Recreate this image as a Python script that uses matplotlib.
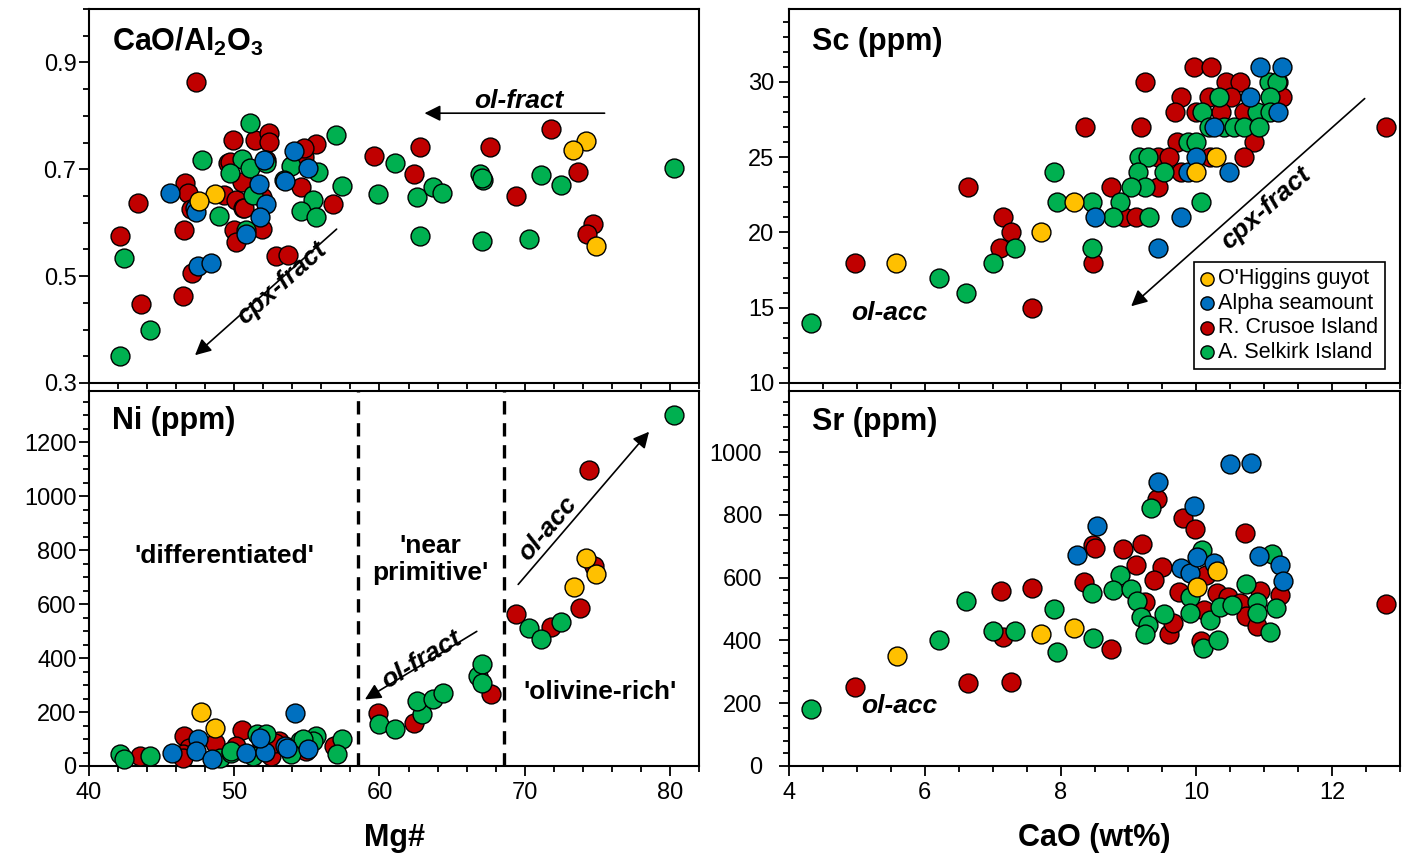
import numpy as np
import matplotlib
matplotlib.use("Agg")
import matplotlib.pyplot as plt
from matplotlib.ticker import MultipleLocator

plt.rcParams['font.family'] = ['Liberation Sans', 'DejaVu Sans']
plt.rcParams['mathtext.fontset'] = 'custom'
plt.rcParams['mathtext.bf'] = 'Liberation Sans:bold'

groups = ["O'Higgins guyot", "Alpha seamount", "R. Crusoe Island", "A. Selkirk Island"]
colors = ["#FFC000", "#0070C0", "#C00000", "#00B050"]

# CaO/Al2O3 vs Mg#  (Mg#, ratio)
cal_yellow = [(48.7, 0.654), (47.6, 0.640), (74.2, 0.753), (73.35, 0.737), (74.9, 0.556)]
cal_blue = [(45.6, 0.656), (52.05, 0.718), (54.1, 0.734), (55.1, 0.703), (47.3, 0.628), (47.4, 0.620),
            (51.7, 0.672), (52.2, 0.635), (51.75, 0.610), (50.8, 0.578), (53.5, 0.678), (47.5, 0.519),
            (48.4, 0.524)]
cal_red = [(47.4, 0.863), (49.9, 0.755), (51.4, 0.754), (52.4, 0.767), (52.4, 0.751), (55.6, 0.747),
           (49.6, 0.711), (54.8, 0.723), (59.65, 0.725), (46.6, 0.674), (46.8, 0.655), (47.05, 0.626),
           (49.3, 0.651), (50.15, 0.642), (50.6, 0.628), (51.9, 0.648), (51.9, 0.589), (50.0, 0.586),
           (50.15, 0.564), (54.6, 0.667), (56.8, 0.635), (52.85, 0.537), (53.7, 0.539), (42.1, 0.576),
           (43.4, 0.637), (43.55, 0.448), (46.5, 0.463), (47.1, 0.505), (46.55, 0.587), (62.8, 0.742),
           (62.4, 0.692), (67.6, 0.742), (69.4, 0.650), (71.8, 0.776), (73.7, 0.694), (74.7, 0.597),
           (74.3, 0.578), (50.5, 0.676), (50.7, 0.627), (49.7, 0.714), (54.8, 0.740), (52.2, 0.717)]
cal_green = [(51.07, 0.787), (57.0, 0.765), (47.8, 0.718), (50.5, 0.720), (51.06, 0.702), (49.7, 0.693),
             (52.2, 0.712), (53.9, 0.707), (55.8, 0.695), (57.4, 0.668), (61.1, 0.712), (59.9, 0.653),
             (48.96, 0.612), (51.3, 0.651), (50.8, 0.586), (55.4, 0.642), (54.6, 0.622), (55.6, 0.610),
             (42.4, 0.534), (44.2, 0.399), (42.1, 0.350), (62.6, 0.648), (63.7, 0.666), (64.3, 0.656),
             (62.8, 0.576), (66.9, 0.691), (67.1, 0.680), (67.06, 0.684), (67.05, 0.566), (70.3, 0.570),
             (71.1, 0.689), (72.5, 0.670), (80.3, 0.702), (53.4, 0.680)]

# Ni vs Mg#  (Mg#, ppm)
ni_yellow = [(47.7, 200), (48.7, 142), (73.4, 664), (74.2, 772), (74.9, 712)]
ni_blue = [(54.2, 198), (47.5, 99), (47.4, 56), (48.5, 25), (45.7, 50), (50.8, 50), (52.1, 52),
           (51.75, 105), (53.5, 74), (55.1, 64), (53.6, 68)]
ni_red = [(46.55, 111), (50.55, 133), (43.5, 37), (46.9, 68), (46.5, 43), (50.15, 74), (51.9, 80),
          (52.55, 37), (53.1, 93), (54.95, 56), (56.9, 74), (59.9, 198), (62.4, 161), (67.7, 266),
          (69.4, 562), (71.8, 516), (73.8, 584), (74.8, 743), (74.4, 1099), (48.65, 87), (52.8, 87),
          (46.5, 31)]
ni_green = [(42.1, 43), (42.4, 25), (44.2, 37), (51.6, 120), (52.2, 117), (49.0, 31), (49.8, 50),
            (51.3, 37), (54.0, 62), (55.6, 111), (55.4, 93), (57.4, 99), (57.1, 43), (54.5, 93),
            (59.95, 154), (61.1, 136), (62.9, 191), (62.6, 241), (63.7, 250), (64.4, 272), (66.8, 333),
            (67.05, 377), (67.05, 306), (70.3, 510), (71.1, 472), (72.5, 533), (80.3, 1300), (49.8, 56),
            (54.7, 99), (53.9, 43)]

# Sc vs CaO  (wt%, ppm)
sc_yellow = [(5.58, 18), (7.71, 20), (8.20, 22), (10.0, 24), (10.29, 25)]
sc_blue = [(8.51, 21), (9.43, 19), (9.77, 21), (9.87, 24), (9.99, 25), (10.48, 24), (10.26, 27),
           (10.79, 29), (11.21, 28), (10.94, 31), (11.26, 31)]
sc_red = [(4.97, 18), (6.63, 23), (7.15, 21), (7.27, 20), (7.11, 19), (7.58, 15), (8.36, 27), (8.48, 18),
          (9.19, 27), (9.24, 30), (9.97, 31), (10.21, 31), (9.77, 29), (9.68, 28), (10.43, 30), (10.65, 30),
          (11.2, 30), (10.19, 29), (10.51, 29), (11.26, 29), (9.99, 28), (10.36, 28), (10.70, 28),
          (10.85, 26), (10.70, 25), (9.72, 26), (10.2, 25), (9.77, 24), (9.43, 25), (9.60, 25), (9.43, 23),
          (8.75, 23), (8.94, 21), (9.11, 21), (12.80, 27)]
sc_green = [(4.33, 14), (6.21, 17), (6.60, 16), (7.0, 18), (7.33, 19), (7.90, 24), (7.95, 22), (8.47, 22),
            (8.46, 19), (11.07, 30), (11.19, 30), (10.34, 29), (11.09, 29), (10.09, 28), (10.90, 28),
            (11.09, 28), (10.19, 27), (10.41, 27), (10.55, 27), (10.70, 27), (10.92, 27), (9.87, 26),
            (9.99, 26), (9.16, 25), (9.29, 25), (9.14, 24), (9.53, 24), (9.24, 23), (9.04, 23), (8.87, 22),
            (8.77, 21), (9.31, 21), (10.07, 22)]

# Sr vs CaO  (wt%, ppm)
sr_yellow = [(5.59, 350), (7.71, 420), (8.20, 439), (10.30, 622), (10.01, 569)]
sr_blue = [(8.24, 672), (8.53, 764), (10.50, 961), (10.80, 967), (9.44, 905), (9.96, 828), (9.78, 630),
           (9.90, 614), (10.01, 667), (10.26, 646), (10.93, 669), (11.23, 640), (11.28, 589)]
sr_red = [(4.97, 251), (6.63, 263), (7.12, 558), (7.15, 412), (7.27, 268), (7.58, 566), (8.35, 587),
          (8.48, 704), (8.50, 694), (9.42, 852), (9.81, 791), (9.98, 754), (10.71, 741), (8.92, 693),
          (9.20, 709), (9.11, 642), (9.50, 635), (9.38, 592), (9.25, 523), (9.60, 420), (9.65, 456),
          (8.75, 372), (9.75, 555), (10.14, 608), (10.31, 550), (10.12, 497), (10.46, 539), (10.94, 558),
          (10.65, 518), (10.73, 478), (10.89, 446), (11.23, 545), (10.07, 399), (12.80, 516)]
sr_green = [(4.33, 181), (6.21, 403), (6.61, 527), (7.01, 431), (7.33, 431), (7.90, 499), (7.95, 364),
            (8.46, 552), (8.48, 407), (9.33, 823), (8.87, 608), (8.77, 561), (9.04, 563), (9.13, 527),
            (9.19, 476), (9.29, 449), (9.25, 420), (9.53, 484), (10.08, 688), (9.90, 539), (9.91, 486),
            (10.20, 465), (10.35, 507), (10.53, 513), (10.73, 580), (10.90, 523), (10.90, 486), (11.09, 428),
            (11.18, 502), (11.12, 675), (10.10, 375), (10.32, 401)]

W, H = 1406, 859
fig = plt.figure(figsize=(W / 100, H / 100), dpi=100)


def px_axes(x0, y0, x1, y1):
    return fig.add_axes([x0 / W, 1 - y1 / H, (x1 - x0) / W, (y1 - y0) / H])


ax_tl = px_axes(89, 9, 699, 383)
ax_bl = px_axes(89, 391, 699, 766)
ax_tr = px_axes(789, 9, 1400, 383)
ax_br = px_axes(789, 391, 1400, 766)

panels = [
    (ax_tl, [cal_yellow, cal_blue, cal_red, cal_green]),
    (ax_bl, [ni_yellow, ni_blue, ni_red, ni_green]),
    (ax_tr, [sc_yellow, sc_blue, sc_red, sc_green]),
    (ax_br, [sr_yellow, sr_blue, sr_red, sr_green]),
]
draw_order = [2, 3, 1, 0]  # red, green, blue, yellow on top

for ax, sets in panels:
    for i in draw_order:
        d = np.array(sets[i])
        ax.scatter(d[:, 0], d[:, 1], s=185, color=colors[i], edgecolor='black',
                   linewidth=1.0, label=groups[i], zorder=3, clip_on=False)
    for sp in ax.spines.values():
        sp.set_linewidth(1.5)
    ax.tick_params(which='both', direction='out', width=1.3, labelsize=17, top=False, right=False)
    ax.tick_params(which='major', length=7.5)
    ax.tick_params(which='minor', length=4)
    ax.tick_params(axis='x', pad=4)

ax_tl.tick_params(axis='y', pad=1.5)
ax_bl.tick_params(axis='y', pad=1.5)
ax_tr.tick_params(axis='y', pad=3)
ax_br.tick_params(axis='y', pad=12)

# axis limits and ticks
for ax in (ax_tl, ax_bl):
    ax.set_xlim(40, 82)
    ax.set_xticks([40, 50, 60, 70, 80])
    ax.xaxis.set_minor_locator(MultipleLocator(2))
for ax in (ax_tr, ax_br):
    ax.set_xlim(4, 13)
    ax.set_xticks([4, 6, 8, 10, 12])
    ax.xaxis.set_minor_locator(MultipleLocator(0.5))
ax_tl.tick_params(labelbottom=False)
ax_tr.tick_params(labelbottom=False)

ax_tl.set_ylim(0.3, 1.0)
ax_tl.set_yticks([0.3, 0.5, 0.7, 0.9])
ax_tl.yaxis.set_minor_locator(MultipleLocator(0.05))

ax_bl.set_ylim(0, 1390)
ax_bl.set_yticks(range(0, 1201, 200))
ax_bl.yaxis.set_minor_locator(MultipleLocator(50))

ax_tr.set_ylim(10, 34.85)
ax_tr.set_yticks(range(10, 31, 5))
ax_tr.yaxis.set_minor_locator(MultipleLocator(1))

ax_br.set_ylim(0, 1195)
ax_br.set_yticks(range(0, 1001, 200))
ax_br.yaxis.set_minor_locator(MultipleLocator(40))

ax_bl.set_xlabel('Mg#', fontsize=22, fontweight='bold', labelpad=14)
ax_br.set_xlabel('CaO (wt%)', fontsize=22, fontweight='bold', labelpad=14)

# panel titles
tkw = dict(fontsize=22, fontweight='bold', ha='left', va='center')
ax_tl.text(0.038, 0.912, r'CaO/Al$_\mathbf{2}$O$_\mathbf{3}$', transform=ax_tl.transAxes, **tkw)
ax_bl.text(0.038, 0.92, 'Ni (ppm)', transform=ax_bl.transAxes, **tkw)
ax_tr.text(0.038, 0.912, 'Sc (ppm)', transform=ax_tr.transAxes, **tkw)
ax_br.text(0.038, 0.917, 'Sr (ppm)', transform=ax_br.transAxes, **tkw)

akw = dict(arrowstyle='-|>', mutation_scale=24, lw=1.2, color='black', shrinkA=0, shrinkB=0)
lkw = dict(fontsize=19, fontweight='bold', ha='center', va='center')

# top-left annotations
ax_tl.annotate('', xy=(63.1, 0.805), xytext=(75.5, 0.805), arrowprops=akw)
ax_tl.text(69.6, 0.828, 'ol-fract', style='italic', **lkw)
ax_tl.annotate('', xy=(47.3, 0.352), xytext=(57.05, 0.588), arrowprops=akw)
ax_tl.text(53.3, 0.487, 'cpx-fract', style='italic', rotation=41.6, **lkw)

# bottom-left annotations
for xv in (58.55, 68.6):
    ax_bl.axvline(xv, color='black', lw=2.4, dashes=(4, 2.6), zorder=2)
ax_bl.text(49.3, 780, "'differentiated'", **lkw)
ax_bl.text(63.5, 765, "'near\nprimitive'", linespacing=1.15, **lkw)
ax_bl.text(75.2, 276, "'olivine-rich'", **lkw)
ax_bl.annotate('', xy=(78.56, 1239), xytext=(69.55, 673), arrowprops=akw)
ax_bl.text(71.6, 880, 'ol-acc', style='italic', rotation=49.4, **lkw)
ax_bl.annotate('', xy=(59.0, 247), xytext=(66.7, 499), arrowprops=akw)
ax_bl.text(62.9, 395, 'ol-fract', style='italic', rotation=31.5, **lkw)

# top-right annotations
ax_tr.annotate('', xy=(9.04, 15.1), xytext=(12.48, 28.9), arrowprops=akw)
ax_tr.text(11.03, 21.6, 'cpx-fract', style='italic', rotation=41.5, **lkw)
ax_tr.text(5.48, 14.65, 'ol-acc', style='italic', **lkw)

# bottom-right annotations
ax_br.text(5.63, 191, 'ol-acc', style='italic', **lkw)

# legend
h, l = ax_tr.get_legend_handles_labels()
order = [l.index(g) for g in groups]
leg = ax_tr.legend([h[k] for k in order], [l[k] for k in order], loc='lower right',
                   bbox_to_anchor=(0.975, 0.037), borderaxespad=0, fontsize=15.5,
                   markerscale=0.7, handlelength=0.6, handletextpad=0.2, labelspacing=0.16,
                   borderpad=0.3, fancybox=False, framealpha=1, edgecolor='black')
leg.get_frame().set_linewidth(1.2)
leg.set_zorder(5)

fig.savefig('out.png', dpi=100)
